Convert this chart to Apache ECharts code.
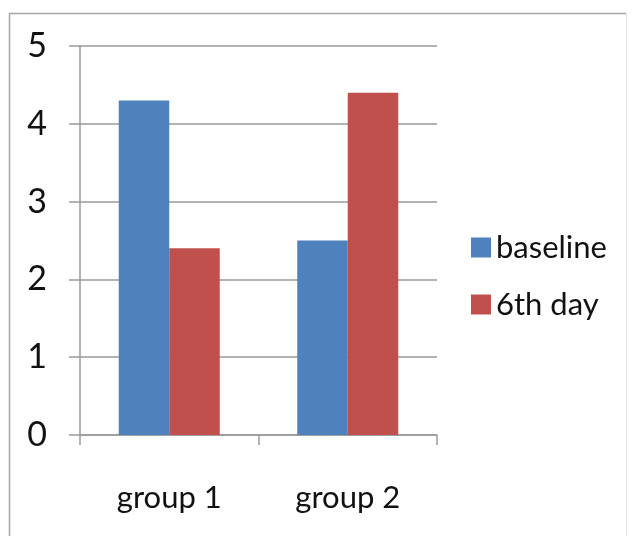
<!DOCTYPE html>
<html>
<head>
<meta charset="utf-8">
<script src="https://cdn.jsdelivr.net/npm/echarts@6/dist/echarts.min.js"></script>
<style>
  html, body { margin: 0; padding: 0; background: #fff; }
  #chart { width: 632px; height: 536px; }
</style>
</head>
<body>
<div id="chart"></div>
<script>
// Category labels and the two series per group
const groups = ['group 1', 'group 2'];
const baseline = [4.3, 2.5];
const day6 = [2.4, 4.4];
const seriesNames = ['baseline', '6th day'];

const font = 'Lato, "Open Sans", sans-serif';
const chart = echarts.init(document.getElementById('chart'), null, { renderer: 'canvas' });

chart.setOption({
  animation: false,
  backgroundColor: '#fff',
  textStyle: { fontFamily: font },
  graphic: [
    // outer frame
    { type: 'line', shape: { x1: 9, y1: 13.5, x2: 626, y2: 13.5 }, style: { stroke: '#a6a6a6', lineWidth: 1.5 } },
    { type: 'line', shape: { x1: 9.5, y1: 13, x2: 9.5, y2: 536 }, style: { stroke: '#a6a6a6', lineWidth: 1.5 } },
    { type: 'line', shape: { x1: 626.5, y1: 13, x2: 626.5, y2: 536 }, style: { stroke: '#e6e6e6', lineWidth: 1 } }
  ],
  grid: { left: 80, right: 195, top: 46, bottom: 101, containLabel: false },
  legend: {
    orient: 'vertical',
    left: 466,
    top: 227,
    itemWidth: 20,
    itemHeight: 20,
    itemGap: 26,
    icon: 'rect',
    textStyle: { fontFamily: font, fontSize: 31, color: '#111', padding: [0, 0, 0, 0] },
    data: seriesNames
  },
  xAxis: {
    type: 'category',
    data: groups,
    axisLine: { lineStyle: { color: '#9a9a9a', width: 1.5 } },
    axisTick: { show: true, length: 10, lineStyle: { color: '#9a9a9a', width: 1.5 } },
    axisLabel: { fontFamily: font, fontSize: 31, color: '#111', margin: 47 }
  },
  yAxis: {
    type: 'value',
    min: 0,
    max: 5,
    interval: 1,
    axisLine: { show: true, lineStyle: { color: '#9a9a9a', width: 1.5 } },
    axisTick: { show: true, length: 11, lineStyle: { color: '#9a9a9a', width: 1.5 } },
    splitLine: { show: true, lineStyle: { color: '#9a9a9a', width: 1.5 } },
    axisLabel: { fontFamily: font, fontSize: 34, color: '#111', margin: 33 }
  },
  series: [
    {
      name: seriesNames[0],
      type: 'bar',
      data: baseline,
      barWidth: '28.3%',
      barGap: '0%',
      itemStyle: { color: '#4f81bd' }
    },
    {
      name: seriesNames[1],
      type: 'bar',
      data: day6,
      barWidth: '28.3%',
      barGap: '0%',
      itemStyle: { color: '#c0504d' }
    }
  ]
});
</script>
</body>
</html>
